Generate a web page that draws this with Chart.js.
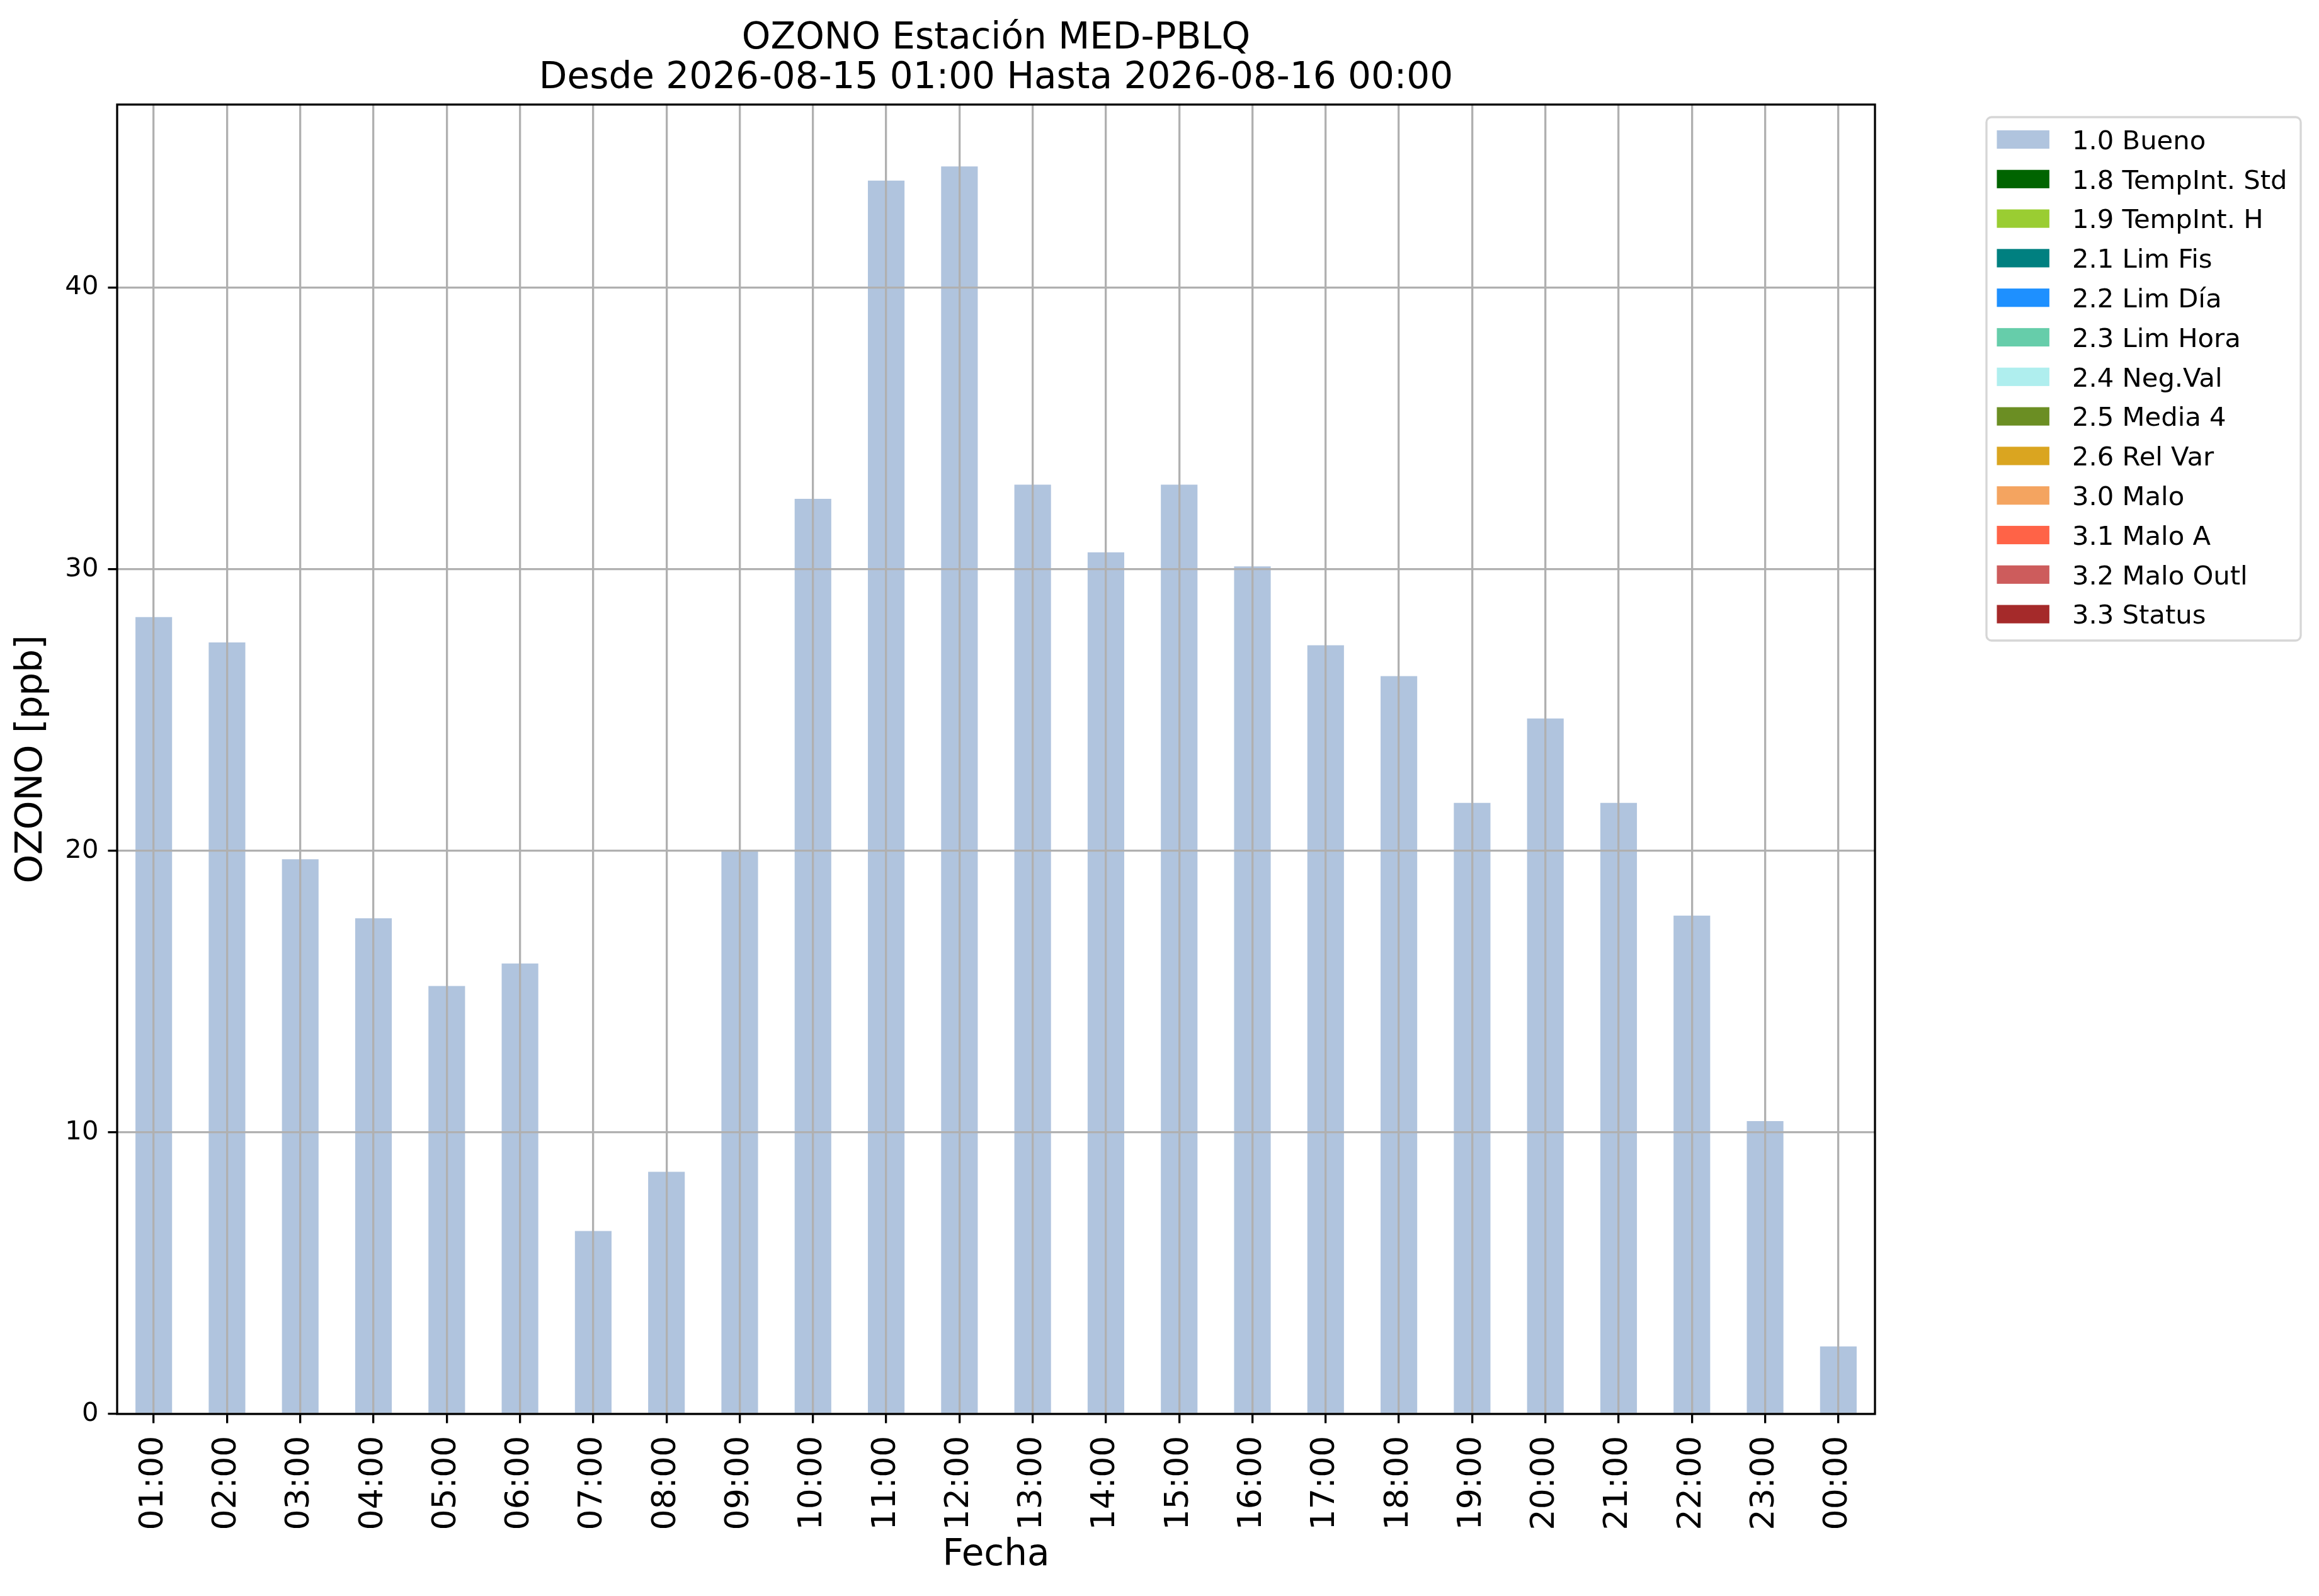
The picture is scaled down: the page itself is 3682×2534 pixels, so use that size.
<!DOCTYPE html>
<html>
<head>
<meta charset="utf-8">
<script src="https://cdn.jsdelivr.net/npm/chart.js@4.4.1/dist/chart.umd.min.js"></script>
<style>
html,body{margin:0;padding:0;background:#ffffff;}
canvas{display:block;}
</style>
</head>
<body>
<canvas id="c" width="3682" height="2534"></canvas>
<script>
// ---- data ----
const titleLines = ['OZONO Estación MED-PBLQ', 'Desde 2026-08-15 01:00 Hasta 2026-08-16 00:00'];
const hours = ['01:00','02:00','03:00','04:00','05:00','06:00','07:00','08:00','09:00','10:00','11:00','12:00',
               '13:00','14:00','15:00','16:00','17:00','18:00','19:00','20:00','21:00','22:00','23:00','00:00'];
const ozono = [28.3, 27.4, 19.7, 17.6, 15.2, 16.0, 6.5, 8.6, 20.0, 32.5, 43.8, 44.3,
               33.0, 30.6, 33.0, 30.1, 27.3, 26.2, 21.7, 24.7, 21.7, 17.7, 10.4, 2.4];
const flagLabels = ['1.0 Bueno','1.8 TempInt. Std','1.9 TempInt. H','2.1 Lim Fis','2.2 Lim Día','2.3 Lim Hora',
                    '2.4 Neg.Val','2.5 Media 4','2.6 Rel Var','3.0 Malo','3.1 Malo A','3.2 Malo Outl','3.3 Status'];
const flagColors = ['#b0c4de','#006400','#9acd32','#008080','#1e90ff','#66cdaa',
                    '#afeeee','#6b8e23','#daa520','#f4a460','#ff6347','#cd5c5c','#a52a2a'];
const yTicks = [0, 10, 20, 30, 40];
const yMin = 0, yMax = 46.5;
const xTitle = 'Fecha', yTitle = 'OZONO [ppb]';

// ---- datasets: only "1.0 Bueno" has values, others are empty flag categories ----
const datasets = flagLabels.map((lab, i) => ({
  label: lab,
  data: i === 0 ? ozono : [],
  backgroundColor: flagColors[i],
  borderWidth: 0,
  barPercentage: 0.5,
  categoryPercentage: 1.0
}));

const FONT = "'DejaVu Sans', sans-serif";
const LW = 3.3;

const titlePlugin = {
  id: 'mplTitle',
  afterDraw(chart) {
    const ctx = chart.ctx, a = chart.chartArea;
    const cx = (a.left + a.right) / 2;
    ctx.save();
    ctx.fillStyle = '#000';
    ctx.font = '58px ' + FONT;
    ctx.textAlign = 'center';
    ctx.textBaseline = 'alphabetic';
    ctx.fillText(titleLines[0], cx, 77);
    ctx.fillText(titleLines[1], cx, 140);
    ctx.restore();
  }
};

const framePlugin = {
  id: 'frame',
  afterDraw(chart) {
    const ctx = chart.ctx, a = chart.chartArea;
    ctx.save();
    ctx.strokeStyle = '#000';
    ctx.lineWidth = LW;
    ctx.strokeRect(a.left, a.top, a.right - a.left, a.bottom - a.top);
    ctx.restore();
  }
};

const legendPlugin = {
  id: 'mplLegend',
  afterDraw(chart) {
    const ctx = chart.ctx;
    const ds = chart.data.datasets;
    const x0 = 3154, y0 = 186, x1 = 3653, y1 = 1017, r = 8;
    ctx.save();
    ctx.beginPath();
    ctx.moveTo(x0 + r, y0);
    ctx.lineTo(x1 - r, y0); ctx.arcTo(x1, y0, x1, y0 + r, r);
    ctx.lineTo(x1, y1 - r); ctx.arcTo(x1, y1, x1 - r, y1, r);
    ctx.lineTo(x0 + r, y1); ctx.arcTo(x0, y1, x0, y1 - r, r);
    ctx.lineTo(x0, y0 + r); ctx.arcTo(x0, y0, x0 + r, y0, r);
    ctx.closePath();
    ctx.fillStyle = 'rgba(255,255,255,0.8)';
    ctx.fill();
    ctx.strokeStyle = '#d6d6d6';
    ctx.lineWidth = LW;
    ctx.stroke();
    ctx.font = '41.7px ' + FONT;
    ctx.textAlign = 'left';
    ctx.textBaseline = 'alphabetic';
    ds.forEach((d, i) => {
      const cy = 221.5 + 62.8 * i;
      ctx.fillStyle = d.backgroundColor;
      ctx.fillRect(3170.5, cy - 14.6, 83.4, 29.2);
      ctx.fillStyle = '#000';
      ctx.fillText(d.label, 3290, cy + 15.2);
    });
    ctx.restore();
  }
};

new Chart(document.getElementById('c'), {
  type: 'bar',
  data: { labels: hours, datasets: datasets },
  plugins: [titlePlugin, framePlugin, legendPlugin],
  options: {
    responsive: false,
    animation: false,
    devicePixelRatio: 1,
    layout: { padding: { left: 0, top: 166, right: 705, bottom: 0 } },
    plugins: { legend: { display: false }, title: { display: false }, tooltip: { enabled: false } },
    scales: {
      x: {
        stacked: true,
        offset: true,
        afterFit(scale) { scale.height = 2534 - 2245; },
        grid: { display: true, offset: false, color: '#b0b0b0', lineWidth: LW, z: 1,
                drawTicks: true, tickLength: 14.6, tickColor: '#000', tickWidth: LW },
        border: { display: false },
        ticks: { autoSkip: false, maxRotation: 90, minRotation: 90, padding: 20, color: '#000',
                 font: { family: FONT, size: 52 } },
        title: { display: true, text: xTitle, color: '#000', font: { family: FONT, size: 58 },
                 padding: { top: 0, bottom: 29 } }
      },
      y: {
        stacked: true,
        min: yMin, max: yMax,
        afterFit(scale) { scale.width = 186; },
        afterBuildTicks(scale) { scale.ticks = yTicks.map(v => ({ value: v })); },
        grid: { display: true, color: '#b0b0b0', lineWidth: LW, z: 1,
                drawTicks: true, tickLength: 14.6, tickColor: '#000', tickWidth: LW },
        border: { display: false },
        ticks: { padding: 15, color: '#000', font: { family: FONT, size: 41.7 } },
        title: { display: true, text: yTitle, color: '#000', font: { family: FONT, size: 58 },
                 padding: { top: 16, bottom: 0 } }
      }
    }
  }
});
</script>
</body>
</html>
